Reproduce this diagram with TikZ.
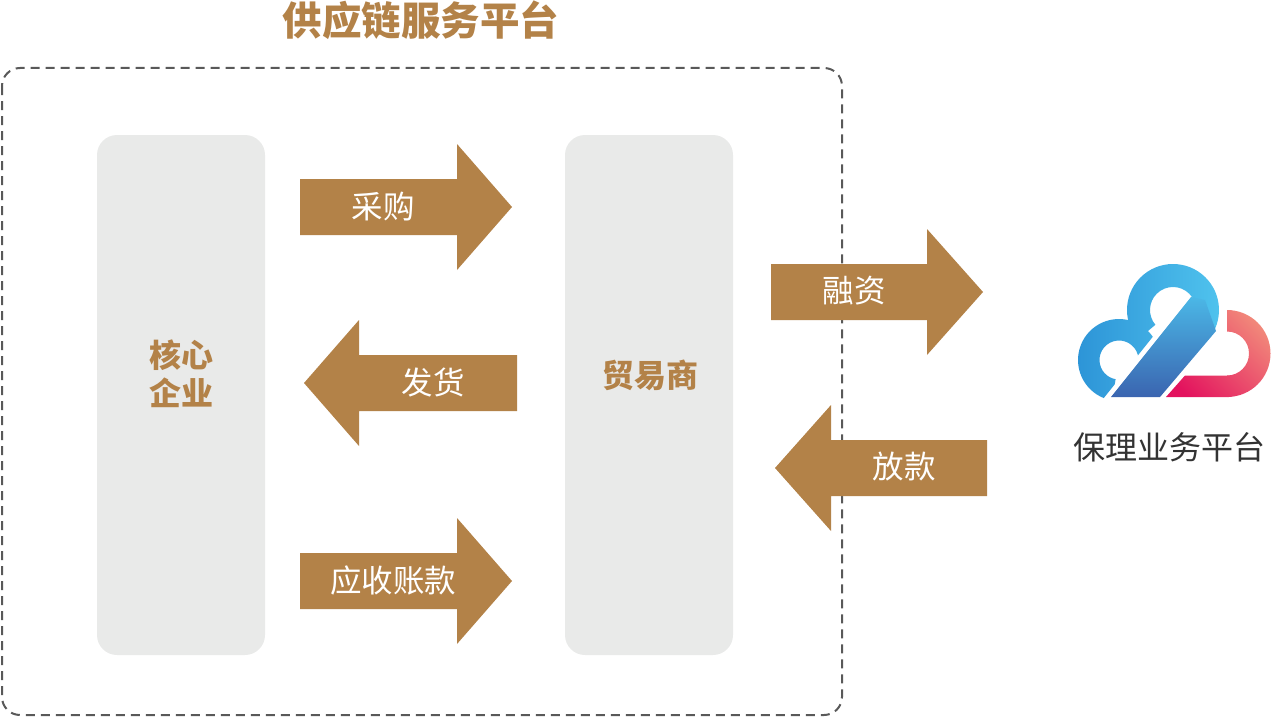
\documentclass[tikz,border=0pt]{standalone}
\usepackage{fontspec}
\setmainfont{Noto Sans CJK SC}
\usetikzlibrary{calc}
\definecolor{arrbrown}{HTML}{B38248}
\definecolor{boxgray}{HTML}{E9EAE9}
\definecolor{dashgray}{HTML}{595959}
\definecolor{txtdark}{HTML}{333333}
\definecolor{lbA}{HTML}{2B92D6}
\definecolor{lbB}{HTML}{52C6EF}
\definecolor{dgA}{HTML}{4CBDEA}
\definecolor{dgB}{HTML}{3A62AE}
\definecolor{rdA}{HTML}{E3125E}
\definecolor{rdB}{HTML}{F28C7B}
\tikzset{
  blockarrow/.style={fill=arrbrown, draw=none},
  lanebox/.style={fill=boxgray, draw=none, rounded corners=20pt},
  arrowlabel/.style={text=white, font=\fontsize{31.5}{36}\selectfont, inner sep=0pt},
  boxlabel/.style={text=arrbrown, font=\bfseries\fontsize{32}{38}\selectfont, inner sep=0pt, align=center},
  platform/.style={draw=dashgray, line width=2pt, dash pattern=on 9pt off 6pt, rounded corners=18pt},
}
\begin{document}
\begin{tikzpicture}[x=1pt,y=-1pt]
\useasboundingbox (0,0) rectangle (1280,717);
% platform frame
\draw[platform] (2,68) rectangle (842,715);
\node[text=arrbrown, font=\bfseries\fontsize{39.5}{44}\selectfont, inner sep=0pt] (title) at (421,20) {供应链服务平台};
% lanes
\path[lanebox] (97,135) rectangle (265,655);
\path[lanebox] (565,135) rectangle (733,655);
\node[boxlabel] (core) at (181,374) {核心\\企业};
\node[boxlabel] (trader) at (650,375) {贸易商};
% arrows
\fill[blockarrow] (300,179) -- (457,179) -- (457,144) -- (512,207) -- (457,270) -- (457,235) -- (300,235) -- cycle;
\node[arrowlabel] (buy) at (383,207) {采购};
\fill[blockarrow] (517,355) -- (359,355) -- (359,320) -- (304,383) -- (359,446) -- (359,411) -- (517,411) -- cycle;
\node[arrowlabel] (ship) at (433,382) {发货};
\fill[blockarrow] (300,553) -- (457,553) -- (457,518) -- (512,581) -- (457,644) -- (457,609) -- (300,609) -- cycle;
\node[arrowlabel] (recv) at (393,581) {应收账款};
\fill[blockarrow] (771,264) -- (927,264) -- (927,229) -- (983,292) -- (927,355) -- (927,320) -- (771,320) -- cycle;
\node[arrowlabel] (fin) at (854,291) {融资};
\fill[blockarrow] (987,440) -- (831,440) -- (831,405) -- (775,468) -- (831,531) -- (831,496) -- (987,496) -- cycle;
\node[arrowlabel] (loan) at (904,467) {放款};
% logo: left lobe
\begin{scope}
  \clip (1227,244) -- (1067,444) -- (1000,444) -- (1000,244) -- cycle;
  \clip ($(1119,360)+(100:41)$) arc[start angle=100,end angle=355,radius=41] -- ($(1119,360)+(355:19.5)$) arc[start angle=355,end angle=100,radius=19.5] -- cycle;
  \shade[left color=lbA, right color=lbB] (1070,260) rectangle (1230,400);
\end{scope}
% big lobe
\begin{scope}
  \clip ($(1173,310)+(140:46)$) arc[start angle=140,end angle=405,radius=46] -- ($(1173,310)+(405:23)$) arc[start angle=405,end angle=140,radius=23] -- cycle;
  \shade[left color=lbA, right color=lbB] (1070,260) rectangle (1230,400);
\end{scope}
% diagonal
\begin{scope}
  \clip (1111,397) -- (1160,397) -- (1216,331) -- (1205,300) -- (1191,297) -- cycle;
  \shade[top color=dgA, bottom color=dgB] (1100,290) rectangle (1230,400);
\end{scope}
% red lobe
\begin{scope}
  \clip ($(1227,353.5)+(270:43.5)$) arc[start angle=270,end angle=450,radius=43.5] -- ($(1227,353.5)+(450:22)$) arc[start angle=450,end angle=270,radius=22] -- cycle;
  \shade[top color=rdB, bottom color=rdA, shading angle=-45] (1160,305) rectangle (1275,400);
\end{scope}
\begin{scope}
  \clip (1166,397) -- (1229,397) -- (1229,375.5) -- (1185,375.5) -- cycle;
  \shade[top color=rdB, bottom color=rdA, shading angle=-45] (1160,305) rectangle (1275,400);
\end{scope}
\node[text=txtdark, font=\fontsize{32}{36}\selectfont, inner sep=0pt] (factor) at (1169,447) {保理业务平台};
\end{tikzpicture}
\end{document}
